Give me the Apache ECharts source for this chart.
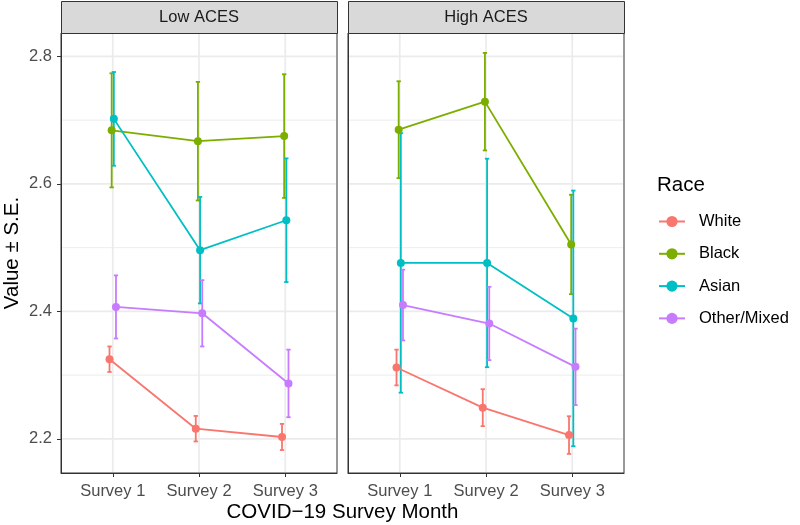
<!DOCTYPE html>
<html>
<head>
<meta charset="utf-8">
<script src="https://cdn.jsdelivr.net/npm/echarts@6/dist/echarts.min.js"></script>
<style>html,body{margin:0;padding:0;background:#fff}#c{width:800px;height:525px}</style>
</head>
<body>
<div id="c"></div>
<script>
const categories = ['Survey 1', 'Survey 2', 'Survey 3'];
const races = ['White', 'Black', 'Asian', 'Other/Mixed'];
const panels = ['Low ACES', 'High ACES'];
const yMajor = [2.2, 2.4, 2.6, 2.8];
const yMinor = [2.3, 2.5, 2.7];

// Low ACES: means and standard errors per survey
const lowWhiteMean = [2.325, 2.216, 2.203];
const lowWhiteSE = [0.020, 0.020, 0.0205];
const lowBlackMean = [2.684, 2.667, 2.675];
const lowBlackSE = [0.0895, 0.093, 0.097];
const lowAsianMean = [2.702, 2.496, 2.543];
const lowAsianSE = [0.0735, 0.0835, 0.097];
const lowOtherMean = [2.407, 2.397, 2.287];
const lowOtherSE = [0.0495, 0.052, 0.053];

// High ACES
const highWhiteMean = [2.312, 2.249, 2.206];
const highWhiteSE = [0.028, 0.029, 0.0295];
const highBlackMean = [2.685, 2.729, 2.505];
const highBlackSE = [0.076, 0.0765, 0.078];
const highAsianMean = [2.476, 2.476, 2.389];
const highAsianSE = [0.2035, 0.1635, 0.2005];
const highOtherMean = [2.410, 2.381, 2.313];
const highOtherSE = [0.0555, 0.0575, 0.060];

const colors = ['#F8766D', '#7CAE00', '#00BFC4', '#C77CFF'];
const panelMeans = [
  [lowWhiteMean, lowBlackMean, lowAsianMean, lowOtherMean],
  [highWhiteMean, highBlackMean, highAsianMean, highOtherMean]
];
const panelSEs = [
  [lowWhiteSE, lowBlackSE, lowAsianSE, lowOtherSE],
  [highWhiteSE, highBlackSE, highAsianSE, highOtherSE]
];

const dodge = 0.1;
const capW = 0.05;
const FONT = '"Liberation Sans", Arial, Helvetica, sans-serif';

const gridPos = [
  {left: 61, top: 33, width: 276, height: 440},
  {left: 348, top: 33, width: 276, height: 440}
];

const grids = gridPos.map(g => Object.assign({
  show: true, borderColor: '#333333', borderWidth: 1, backgroundColor: '#fff', containLabel: false
}, g));

const xAxes = gridPos.map((g, i) => ({
  type: 'value', gridIndex: i, min: 0.4, max: 3.6,
  axisLine: {show: true, onZero: false, lineStyle: {color: '#333333', width: 1}},
  axisTick: {show: true, length: 4, customValues: [1, 2, 3], lineStyle: {color: '#333333', width: 1}},
  axisLabel: {show: true, customValues: [1, 2, 3], margin: 10, fontSize: 16.5, color: '#4D4D4D', fontFamily: FONT,
    formatter: v => categories[Math.round(v) - 1]},
  splitLine: {show: false}
}));

const yAxes = gridPos.map((g, i) => ({
  type: 'value', gridIndex: i, min: 2.1465, max: 2.8367,
  axisLine: {show: true, onZero: false, lineStyle: {color: '#333333', width: 1}},
  axisTick: {show: i === 0, length: 4, customValues: yMajor, lineStyle: {color: '#333333', width: 1}},
  axisLabel: {show: i === 0, customValues: yMajor, margin: 9, fontSize: 16.5, color: '#4D4D4D', fontFamily: FONT,
    formatter: v => v.toFixed(1)},
  splitLine: {show: false}
}));

const series = [];

// grid lines
panels.forEach((p, pi) => {
  series.push({
    type: 'custom', xAxisIndex: pi, yAxisIndex: pi, silent: true, z: 0,
    data: yMinor.map(v => [v, 0]).concat(yMajor.map(v => [v, 1])).concat(categories.map((c, ci) => [ci + 1, 2])),
    renderItem: (params, api) => {
      const cs = params.coordSys;
      const v = api.value(0), kind = api.value(1);
      if (kind === 2) {
        const x = api.coord([v, 2.5])[0];
        return {type: 'line', shape: {x1: x, y1: cs.y + 1, x2: x, y2: cs.y + cs.height - 1},
          style: {stroke: '#EBEBEB', lineWidth: 1.7}};
      }
      const y = api.coord([1, v])[1];
      return {type: 'line', shape: {x1: cs.x + 1, y1: y, x2: cs.x + cs.width - 1, y2: y},
        style: {stroke: '#EBEBEB', lineWidth: kind === 1 ? 1.7 : 0.9}};
    }
  });
});

// error bars
panels.forEach((p, pi) => {
  races.forEach((r, ri) => {
    const off = (ri - 1.5) * dodge / 4;
    const means = panelMeans[pi][ri], ses = panelSEs[pi][ri];
    series.push({
      type: 'custom', xAxisIndex: pi, yAxisIndex: pi, silent: true, z: 2,
      data: means.map((m, k) => [k + 1 + off, m - ses[k], m + ses[k]]),
      renderItem: (params, api) => {
        const x = api.value(0);
        const lo = api.coord([x, api.value(1)]);
        const hi = api.coord([x, api.value(2)]);
        const half = api.size([capW, 0])[0] / 2;
        const st = {stroke: colors[ri], lineWidth: 1.8};
        return {type: 'group', children: [
          {type: 'line', shape: {x1: lo[0], y1: lo[1], x2: hi[0], y2: hi[1]}, style: st},
          {type: 'line', shape: {x1: lo[0] - half, y1: lo[1], x2: lo[0] + half, y2: lo[1]}, style: st},
          {type: 'line', shape: {x1: hi[0] - half, y1: hi[1], x2: hi[0] + half, y2: hi[1]}, style: st}
        ]};
      }
    });
  });
});

// lines + points
panels.forEach((p, pi) => {
  races.forEach((r, ri) => {
    const off = (ri - 1.5) * dodge / 4;
    series.push({
      type: 'line', name: r, xAxisIndex: pi, yAxisIndex: pi, z: 3,
      data: panelMeans[pi][ri].map((m, k) => [k + 1 + off, m]),
      symbol: 'circle', symbolSize: 8, showSymbol: true,
      lineStyle: {color: colors[ri], width: 1.8},
      itemStyle: {color: colors[ri], borderWidth: 0},
      emphasis: {disabled: true}, animation: false
    });
  });
});

const graphics = [];
panels.forEach((p, pi) => {
  const g = gridPos[pi];
  graphics.push({type: 'rect', left: g.left, top: 1, z: 10,
    shape: {x: 0, y: 0, width: g.width, height: 32},
    style: {fill: '#D9D9D9', stroke: '#333333', lineWidth: 1}});
  graphics.push({type: 'text', x: g.left + g.width / 2, y: 17, z: 11,
    style: {text: p, fill: '#1A1A1A', font: '16.5px ' + FONT, textAlign: 'center', textVerticalAlign: 'middle'}});
});
graphics.push({type: 'text', x: 342.5, y: 512, z: 11,
  style: {text: 'COVID\u221219 Survey Month', fill: '#000', font: '20.5px ' + FONT, textAlign: 'center', textVerticalAlign: 'middle'}});
graphics.push({type: 'text', x: 12, y: 253, rotation: Math.PI / 2, z: 11,
  style: {text: 'Value \u00B1 S.E.', fill: '#000', font: '20.5px ' + FONT, textAlign: 'center', textVerticalAlign: 'middle'}});
graphics.push({type: 'text', x: 657, y: 185, z: 11,
  style: {text: 'Race', fill: '#000', font: '20.5px ' + FONT, textAlign: 'left', textVerticalAlign: 'middle'}});

const chart = echarts.init(document.getElementById('c'), null, {renderer: 'canvas'});
chart.setOption({
  animation: false,
  backgroundColor: '#fff',
  grid: grids,
  xAxis: xAxes,
  yAxis: yAxes,
  legend: {
    data: races, orient: 'vertical', left: 653, top: 208,
    itemWidth: 26, itemHeight: 14, itemGap: 15.3,
    textStyle: {fontSize: 16.5, color: '#000', fontFamily: FONT, padding: [0, 0, 0, 9]},
    selectedMode: false
  },
  series: series,
  graphic: graphics
});
</script>
</body>
</html>
